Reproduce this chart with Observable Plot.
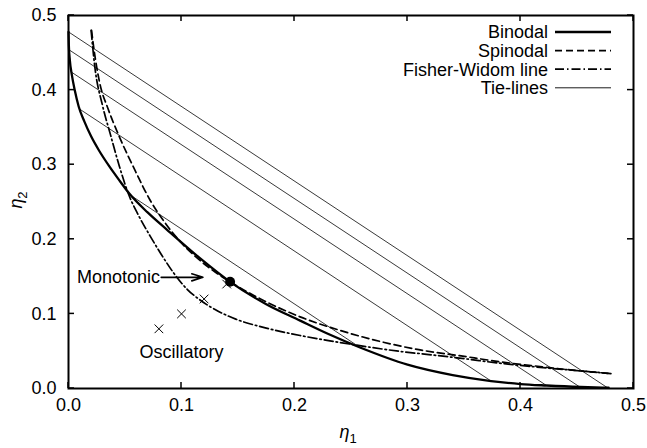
<!DOCTYPE html>
<html><head><meta charset="utf-8">
<script src="https://cdn.jsdelivr.net/npm/d3@7"></script>
<script src="https://cdn.jsdelivr.net/npm/@observablehq/plot@0.6"></script>
<style>body{margin:0;background:#fff}</style>
</head><body><div id="chart"></div>
<script>
// Binodal (coexistence curve)
const binodalX = [0, 0.0003, 0.0012, 0.003, 0.0055, 0.009, 0.014, 0.020, 0.027, 0.036, 0.045, 0.054, 0.07, 0.087, 0.116, 0.143, 0.175, 0.205, 0.23, 0.258, 0.30, 0.34, 0.374, 0.40, 0.423, 0.453, 0.478];
const binodalY = [0.478, 0.46, 0.44, 0.42, 0.40, 0.378, 0.358, 0.338, 0.319, 0.298, 0.279, 0.261, 0.236, 0.213, 0.175, 0.143, 0.113, 0.091, 0.073, 0.055, 0.032, 0.018, 0.010, 0.006, 0.004, 0.002, 0.001];
// Spinodal
const spinodalX = [0.0204, 0.0225, 0.0277, 0.035, 0.044, 0.059, 0.072, 0.086, 0.100, 0.113, 0.128, 0.143, 0.17, 0.205, 0.24, 0.276, 0.31, 0.346, 0.381, 0.42, 0.45, 0.48];
const spinodalY = [0.48, 0.455, 0.409, 0.375, 0.341, 0.292, 0.253, 0.221, 0.195, 0.176, 0.158, 0.143, 0.12, 0.096, 0.078, 0.063, 0.052, 0.044, 0.036, 0.029, 0.024, 0.020];
// Fisher-Widom line
const fwX = [0.020, 0.0233, 0.030, 0.037, 0.045, 0.053, 0.062, 0.072, 0.082, 0.093, 0.105, 0.117, 0.132, 0.148, 0.175, 0.205, 0.235, 0.264, 0.292, 0.322, 0.35, 0.381, 0.42, 0.45, 0.48];
const fwY = [0.48, 0.431, 0.38, 0.341, 0.298, 0.261, 0.232, 0.205, 0.180, 0.155, 0.133, 0.118, 0.104, 0.093, 0.081, 0.071, 0.063, 0.056, 0.050, 0.045, 0.040, 0.034, 0.028, 0.024, 0.020];
// Tie-lines (end points on the binodal)
const tieX1 = [0, 0.0005, 0.0027, 0.0094, 0.053];
const tieY1 = [0.478, 0.454, 0.424, 0.375, 0.261];
const tieX2 = [0.477, 0.453, 0.423, 0.374, 0.258];
const tieY2 = [0.001, 0.0015, 0.004, 0.010, 0.055];
// State points (crosses) and critical point
const crossX = [0.08, 0.10, 0.12, 0.14];
const crossY = [0.08, 0.10, 0.12, 0.14];
const criticalX = [0.143];
const criticalY = [0.143];
// Annotations
const monoText = ["Monotonic"], monoX = [0.081], monoY = [0.149];
const oscText = ["Oscillatory"], oscX = [0.100], oscY = [0.049];
const arrowX1 = [0.082], arrowX2 = [0.119], arrowY = [0.149];
// Ticks
const ticks = [0, 0.1, 0.2, 0.3, 0.4, 0.5];
// Legend
const legendLabels = ["Binodal", "Spinodal", "Fisher-Widom line", "Tie-lines"];

const toPts = (xs, ys) => xs.map((x, i) => ({x, y: ys[i]}));
const binodal = toPts(binodalX, binodalY);
const spinodal = toPts(spinodalX, spinodalY);
const fw = toPts(fwX, fwY);
const ties = tieX1.map((x1, i) => ({x1, y1: tieY1[i], x2: tieX2[i], y2: tieY2[i]}));
const crosses = toPts(crossX, crossY);
const critical = toPts(criticalX, criticalY);
const mono = monoText.map((t, i) => ({t, x: monoX[i], y: monoY[i]}));
const osc = oscText.map((t, i) => ({t, x: oscX[i], y: oscY[i]}));
const arrows = arrowX1.map((x1, i) => ({x1, x2: arrowX2[i], y: arrowY[i]}));
const fmt = d3.format(".1f");
const FONT = "'Liberation Sans', Arial, Helvetica, sans-serif";

const W = 647, H = 448, ML = 68, MR = 14, MT = 15, MB = 60;
const TICK = 6;

const styles = {
  "Binodal": {w: 2.3, dash: null},
  "Spinodal": {w: 1.7, dash: "7,4"},
  "Fisher-Widom line": {w: 1.7, dash: "9,3,1.5,3"},
  "Tie-lines": {w: 0.9, dash: null}
};

const plot = Plot.plot({
  width: W, height: H,
  marginLeft: ML, marginRight: MR, marginTop: MT, marginBottom: MB,
  style: {fontFamily: FONT, fontSize: "18px", background: "#fff", color: "#000", overflow: "visible"},
  x: {domain: [0, 0.5]},
  y: {domain: [0, 0.5]},
  marks: [
    Plot.link(ties, {x1: "x1", y1: "y1", x2: "x2", y2: "y2", stroke: "#222", strokeWidth: 0.9}),
    Plot.line(fw, {x: "x", y: "y", stroke: "#000", strokeWidth: 1.7, strokeDasharray: "9,3,1.5,3", curve: "monotone-x"}),
    Plot.line(spinodal, {x: "x", y: "y", stroke: "#000", strokeWidth: 1.7, strokeDasharray: "7,4", curve: "monotone-x"}),
    Plot.line(binodal, {x: "x", y: "y", stroke: "#000", strokeWidth: 2.3, curve: "monotone-x"}),
    Plot.dot(crosses, {x: "x", y: "y", symbol: "times", r: 4, stroke: "#000", strokeWidth: 1}),
    Plot.dot(critical, {x: "x", y: "y", r: 5, fill: "#000", stroke: "none"}),
    Plot.arrow(arrows, {x1: "x1", x2: "x2", y1: "y", y2: "y", stroke: "#000", strokeWidth: 1.6, headLength: 11, headAngle: 35}),
    Plot.text(mono, {x: "x", y: "y", text: "t", textAnchor: "end", fontSize: 18, fill: "#000"}),
    Plot.text(osc, {x: "x", y: "y", text: "t", textAnchor: "middle", fontSize: 18, fill: "#000"}),
    // tick labels
    Plot.axisX({ticks, tickSize: 0, tickPadding: 10, tickFormat: fmt, label: null}),
    Plot.axisY({ticks, tickSize: 0, tickPadding: 12, tickFormat: fmt, label: null}),
    Plot.frame({stroke: "#000", strokeWidth: 2})
  ]
});

const svg = d3.select(plot);
const sx = plot.scale("x"), sy = plot.scale("y");
// inward, mirrored ticks (gnuplot style), placed through the plot's own scales
const tg = svg.append("g").attr("stroke", "#000").attr("stroke-width", 1.5);
const fTop = MT, fBottom = H - MB, fLeft = ML, fRight = W - MR;
ticks.forEach(t => {
  const px = sx.apply(t), py = sy.apply(t);
  tg.append("line").attr("x1", px).attr("x2", px).attr("y1", fBottom).attr("y2", fBottom - TICK);
  tg.append("line").attr("x1", px).attr("x2", px).attr("y1", fTop).attr("y2", fTop + TICK);
  tg.append("line").attr("y1", py).attr("y2", py).attr("x1", fLeft).attr("x2", fLeft + TICK);
  tg.append("line").attr("y1", py).attr("y2", py).attr("x1", fRight).attr("x2", fRight - TICK);
});

// axis labels
const ylab = svg.append("text").attr("transform", "translate(22,200) rotate(-90)")
  .attr("text-anchor", "middle").attr("font-family", FONT).attr("font-size", 18);
ylab.append("tspan").attr("font-style", "italic").text("η");
ylab.append("tspan").attr("font-size", 13).attr("dy", 5).text("2");
const xlab = svg.append("text").attr("x", 348).attr("y", 438)
  .attr("text-anchor", "middle").attr("font-family", FONT).attr("font-size", 18);
xlab.append("tspan").attr("font-style", "italic").text("η");
xlab.append("tspan").attr("font-size", 13).attr("dy", 5).text("1");

// legend
const lg = svg.append("g").attr("font-family", FONT).attr("font-size", 18);
legendLabels.forEach((name, i) => {
  const cy = 32 + i * 18.6;
  lg.append("text").attr("x", 548).attr("y", cy).attr("dy", "0.35em").attr("text-anchor", "end").text(name);
  const s = styles[name];
  const ln = lg.append("line").attr("x1", 555).attr("x2", 611).attr("y1", cy).attr("y2", cy)
    .attr("stroke", "#000").attr("stroke-width", s.w);
  if (s.dash) ln.attr("stroke-dasharray", s.dash);
});

document.getElementById("chart").append(plot);
</script>
</body></html>
